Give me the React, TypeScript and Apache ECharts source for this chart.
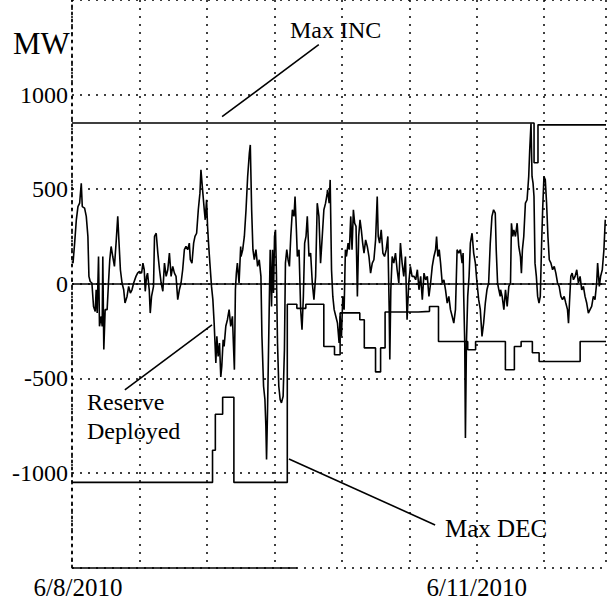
import React, { useEffect, useRef } from "react";
import * as echarts from "echarts";

// Hours since 6/8/2010 00:00
const netHours = [
  0.0, 0.18, 0.47, 0.77, 1.06, 1.36, 1.65, 1.83, 2.24, 2.54, 2.83, 3.01, 3.24, 3.54, 3.83, 4.13, 4.3, 4.48, 4.72, 4.89,
  5.19, 5.37, 5.48, 5.66, 5.9, 6.25, 6.49, 6.72, 6.96, 7.25, 7.55, 7.84, 8.14, 8.31, 8.61, 8.9, 9.2, 9.43, 9.79, 10.08,
  10.38, 10.67, 10.97, 11.38, 11.67, 11.97, 12.38, 12.62, 12.85, 13.03, 13.27, 13.44, 13.74, 13.92, 14.15, 14.5,
  14.68, 14.98, 15.27, 15.57, 15.86, 16.16, 16.45, 16.75, 17.04, 17.33, 17.63, 17.92, 18.22, 18.51, 18.81, 19.1, 19.4,
  19.69, 19.99, 20.28, 20.58, 20.87, 21.05, 21.34, 21.64, 21.88, 22.17, 22.47, 22.76, 22.94, 23.23, 23.53, 23.7, 23.94,
  24.12, 24.29, 24.53, 24.82, 25.06, 25.29, 25.59, 25.77, 26.0, 26.24, 26.47, 26.65, 26.89, 27.06, 27.36, 27.65, 27.95,
  28.24, 28.54, 28.71, 28.89, 29.07, 29.24, 29.42, 29.72, 30.01,
  30.07, 30.37, 30.66, 30.96, 31.25, 31.55, 31.72, 31.96, 32.19, 32.43, 32.72, 33.02, 33.31, 33.61, 33.79, 34.08, 34.32,
  34.49, 34.61, 34.79, 35.08, 35.26, 35.5, 35.67, 35.85, 36.03, 36.2, 36.38, 36.56, 36.79, 37.03, 37.26, 37.56, 37.79,
  37.97, 38.21, 38.44, 38.68, 38.92, 39.21, 39.5, 39.68, 39.92, 40.09, 40.39, 40.68, 40.92, 41.16, 41.39, 41.63, 41.86,
  42.16, 42.45, 42.75, 43.04, 43.34, 43.63, 43.93, 44.22, 44.52, 44.81, 45.11, 45.4,
  45.46, 45.75, 45.93, 46.17, 46.4, 46.64, 46.93, 47.23, 47.52, 47.7, 47.94, 48.17, 48.41, 48.64, 48.82, 49.12, 49.35,
  49.59, 49.82, 50.06, 50.29, 50.53, 50.77, 51.0, 51.24, 51.47, 51.71, 51.95, 52.24, 52.53, 52.83, 53.12, 53.42, 53.71,
  54.01, 54.3, 54.48, 54.72, 55.01, 55.31, 55.6, 55.9, 56.19, 56.43, 56.54, 56.72, 56.96, 57.25, 57.55, 57.84, 58.14,
  58.43, 58.73, 59.02, 59.32, 59.61, 59.91, 60.2, 60.5,
  60.85, 61.14, 61.44, 61.73, 62.03, 62.32, 62.62, 62.91, 63.21, 63.5, 63.8, 64.09, 64.39, 64.68, 64.86, 65.09, 65.33,
  65.57, 65.86, 66.16, 66.45, 66.75, 67.04, 67.33, 67.63, 67.92, 68.22, 68.51, 68.81, 69.1, 69.4, 69.58, 69.69, 69.87,
  69.99, 70.17, 70.4, 70.64, 70.87, 71.17, 71.46, 71.76, 72.05, 72.35, 72.64, 72.94, 73.23, 73.53, 73.82, 74.12, 74.41,
  74.71, 75.0, 75.3, 75.47, 75.71, 75.94, 76.18,
  76.24, 76.53, 76.83, 77.12, 77.42, 77.71, 78.01, 78.18, 78.42, 78.6, 78.89, 79.19, 79.48, 79.78, 79.95, 80.13, 80.37,
  80.66, 80.96, 81.25, 81.43, 81.66, 81.84, 82.02, 82.19, 82.37, 82.61, 82.84, 83.08, 83.31, 83.55, 83.73, 83.96, 84.2,
  84.43, 84.67, 84.91, 85.2, 85.5, 85.79, 86.08, 86.38, 86.67, 86.97, 87.26, 87.56, 87.85, 88.15, 88.33, 88.5, 88.74,
  88.98, 89.21, 89.5, 89.8, 90.09, 90.39, 90.68, 90.98, 91.27, 91.57, 91.86, 92.16, 92.45, 92.75, 93.04, 93.34, 93.51,
  93.81, 94.04, 94.34, 94.63, 94.87, 94.99,
];

const netMW = [
  118, 109, 215, 338, 408, 426, 531, 408, 400, 356, 250, 39, 12, 4, -120, -146, -32, -155, 144, -225,
  -172, -225, 144, -348, -137, -137, 4, 127, 197, 144, 92, 215, 356, 250, 74, 4, -32, -102, -67, -14,
  -49, -32, 4, 39, 56, 65, 56, 109, 74, -40, 39, 56, -32, -155, -67, -14,
  250, 267, 162, 74, 4, -40, 109, 39, 74, 162, 39, 92, 56, 39, -84, -32, 4,
  74, 180, 197, 180, 215, 127, 109, 215, 250, 267, 391, 479, 602, 496, 391, 338, 444,
  303, 215, 109, -14, -84, -208, -419, -278, -384, -313, -493, -436, -296, -331, -225, -190, -137,
  -225, -172, -313, -454, -32, 56, 109, 4, 197,
  144, 180, 250, 391, 567, 690, 734, 391, 180, 127, 180, 92, 127, 39, -278, -542, -612,
  -753, -929, -665, -137, 180, -120, 180, -49, 250, 285, 39, -313, -542, -612, -630, -595, -352,
  109, 180, 127, 92, 250, 391, 356, 461, 285, 144, 180, -137, -243, -67, 215, 250, 356,
  144, 162, 4, -84, 39, 426, 356, 109, 250, 391, 426, 479,
  496, 426, 549, 74, -67, -137, -172, -208, -313, -172, -278, -67, -137, 180, 144, 215, 180,
  356, 180, 391, 320, 303, -67, 250, 338, 285, 215, 162, 232, 197, 144, 56, 109, 127,
  232, 461, 250, 215, 285, 162, 144, 180, 250, -137, -401, -32, 144, 109, 162, 74, 4,
  215, 109, 39, 144, -190, 4, 92, 39,
  39, 21, 74, -32, 39, -84, 56, 21, 39, -67, 4, 92, 144, 180, 250, 144, 180,
  109, 4, 21, -32, -102, -67, -137, -172, -208, -137, 180, 162, 180, 109, 162, -67, -313,
  -815, -313, -67, 39, 215, 267, 162, 109, 4, -84, -137, -278, -208, -102, -32, 4, 215,
  356, 391, 373, 180, 4, -32, -67,
  -32, -67, -137, -32, -120, -14, 4, 320, 250, 285, 250, 320, 197, 144, 56, 180, 250,
  426, 444, 567, 708, 848, 567, 532, 461, 109, 39, -67, -102, -67, 215, 391, 567, 549,
  426, 250, 127, 109, 74, 92, 56, 4, -14, -67, -84, -67, -102, -137, -208, -102, 39,
  56, 21, 39, 74, 4, 39, -32, -14, -67, -102, -155, -137, -120, -67, -84, 4, 109,
  -14, 39, 74, 180, 338, 338,
];

const incHours = [0, 82.2, 82.9, 95];
const incMW = [850, 640, 840, 840];

const decHours = [
  0, 25.0, 25.5, 26.8, 28.8, 38.3, 40.0, 41.6, 44.8, 46.7, 47.7, 51.2, 52.0, 54.0, 54.9, 55.7, 61.6, 63.6, 65.2, 70.4,
  71.8, 77.1, 78.7, 79.9, 81.9, 83.1, 90.4, 95,
];
const decMW = [
  -1050, -880, -690, -600, -1050, -108, -130, -108, -332, -375, -154, -190, -339, -466, -339, -149, -146, -120, -305, -349,
  -305, -455, -332, -305, -365, -411, -305, -305,
];

const yTicks = [-1000, -500, 0, 500, 1000];
const dateLabels: Record<number, string> = { 0: "6/8/2010", 72: "6/11/2010" };

// annotation leader lines, in data units [hours, MW]
const incLeader = [[26.7, 883], [43.9, 1264]];
const reserveLeader = [[9.4, -561], [24.9, -217]];
const decLeader = [[38.6, -926], [64.6, -1275]];

const FONT = "'Liberation Serif', 'Times New Roman', serif";

export default function App() {
  const ref = useRef<HTMLDivElement>(null);
  useEffect(() => {
    if (!ref.current) return;
    const chart = echarts.init(ref.current, undefined, { renderer: "svg" });
    const zip = (xs: number[], ys: number[]) => xs.map((x, i) => [x, ys[i]]);
    const dotted = { color: "#000", type: [2, 6] as any, width: 1.5 };
    const leader = (pts: number[][]) => [{ coord: pts[0] }, { coord: pts[1] }];
    chart.setOption({
      animation: false,
      backgroundColor: "#fff",
      grid: { left: 72, right: 0, top: -1.5, bottom: 32.5 },
      xAxis: {
        type: "value",
        min: 0,
        max: 95,
        interval: 12,
        axisLine: { show: false },
        axisTick: { show: false },
        splitLine: { show: true, lineStyle: dotted },
        axisLabel: {
          margin: 7,
          color: "#000",
          fontFamily: FONT,
          fontSize: 25,
          formatter: (v: number) => {
            const s = dateLabels[v];
            if (!s) return "";
            return v === 0 ? `{a|${s}}` : s;
          },
          rich: { a: { padding: [0, 0, 0, 12], fontFamily: FONT, fontSize: 25, color: "#000" } },
        },
      },
      yAxis: {
        type: "value",
        min: -1500,
        max: 1500,
        interval: 500,
        axisLine: { show: true, lineStyle: { color: "#000", type: [2, 5], width: 1.8 } },
        axisTick: { show: false },
        splitLine: { show: true, lineStyle: dotted },
        axisLabel: {
          margin: 4,
          color: "#000",
          fontFamily: FONT,
          fontSize: 24,
          formatter: (v: number) => (yTicks.includes(v) ? String(v) : ""),
        },
      },
      series: [
        {
          name: "Net",
          type: "line",
          data: zip(netHours, netMW),
          symbol: "none",
          lineStyle: { color: "#000", width: 1.6 },
          z: 3,
          markLine: {
            silent: true,
            symbol: ["none", "none"],
            label: { show: false },
            lineStyle: { color: "#000", type: "solid", width: 1.6 },
            data: [
              { yAxis: 0 },
              leader(incLeader),
              leader(reserveLeader),
              leader(decLeader),
              [{ coord: [0, -1500] }, { coord: [40, -1500] }],
            ],
          },
        },
        {
          name: "Max INC",
          type: "line",
          step: "end",
          data: zip(incHours, incMW),
          symbol: "none",
          lineStyle: { color: "#000", width: 1.6 },
        },
        {
          name: "Max DEC",
          type: "line",
          step: "end",
          data: zip(decHours, decMW),
          symbol: "none",
          lineStyle: { color: "#000", width: 1.6 },
        },
      ],
      graphic: [
        { type: "text", x: 13, y: 43, style: { text: "MW", fontSize: 31, fontFamily: FONT, fill: "#000", align: "left", verticalAlign: "middle" } },
        { type: "text", x: 290, y: 30, style: { text: "Max INC", fontSize: 24, fontFamily: FONT, fill: "#000", align: "left", verticalAlign: "middle" } },
        { type: "text", x: 87, y: 402, style: { text: "Reserve", fontSize: 24, fontFamily: FONT, fill: "#000", align: "left", verticalAlign: "middle" } },
        { type: "text", x: 87, y: 431, style: { text: "Deployed", fontSize: 24, fontFamily: FONT, fill: "#000", align: "left", verticalAlign: "middle" } },
        { type: "text", x: 445, y: 528, style: { text: "Max DEC", fontSize: 25, fontFamily: FONT, fill: "#000", align: "left", verticalAlign: "middle" } },
      ],
    });
    return () => chart.dispose();
  }, []);
  return <div ref={ref} style={{ position: "absolute", left: 0, top: 0, width: 609, height: 600 }} />;
}
